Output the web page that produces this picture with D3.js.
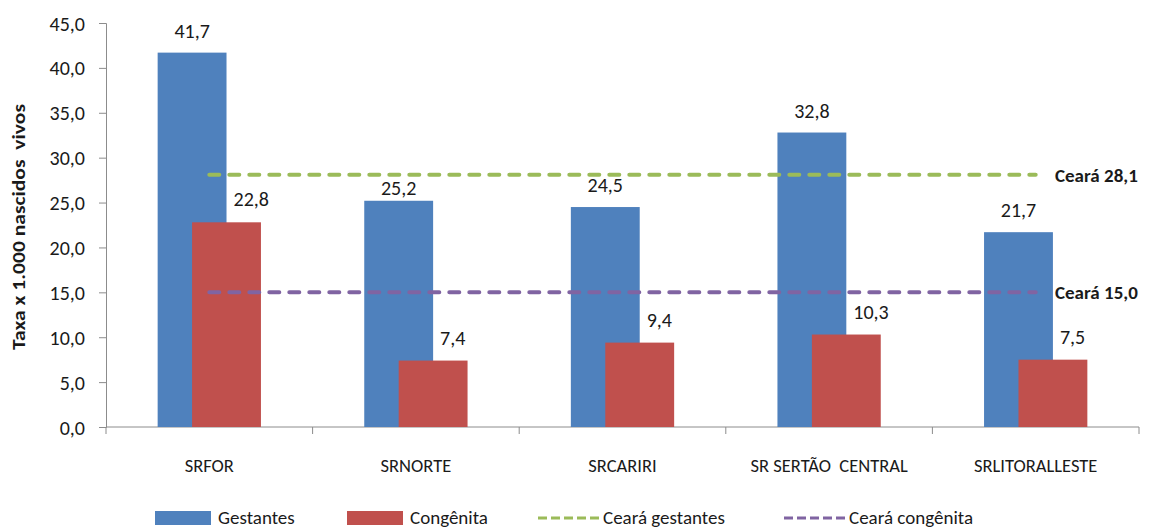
<!DOCTYPE html>
<html>
<head>
<meta charset="utf-8">
<style>
  body { margin: 0; background: #fff; }
  svg text { font-family: Carlito, Lato, "Open Sans", sans-serif; fill: #1a1a1a; }
  .axis path, .axis line { stroke: #8c8c8c; }
</style>
<script src="https://d3js.org/d3.v7.min.js"></script>
</head>
<body>
<svg width="1158" height="530"></svg>
<script>
var categories = ["SRFOR", "SRNORTE", "SRCARIRI", "SR SERTÃO  CENTRAL", "SRLITORALLESTE"];
var gestantes = [41.7, 25.2, 24.5, 32.8, 21.7];
var congenita = [22.8, 7.4, 9.4, 10.3, 7.5];
var cearaGestantes = 28.1;
var cearaCongenita = 15.0;
var yTicks = [0, 5, 10, 15, 20, 25, 30, 35, 40, 45];
var legendLabels = ["Gestantes", "Congênita", "Ceará gestantes", "Ceará congênita"];

var colors = { g: "#4f81bd", c: "#c0504d", lg: "#9bbb59", lc: "#8064a2" };
var fmt = function(v) { return v.toFixed(1).replace(".", ","); };

var svg = d3.select("svg");
var mLeft = 106, mRight = 1139, mTop = 23, mBottom = 427;

var x = d3.scaleBand().domain(categories).range([mLeft, mRight]);
var y = d3.scaleLinear().domain([0, 45]).range([mBottom, mTop]);
var bw = x.bandwidth() / 3;   // bar width
var off = bw / 4;              // overlap offset

// y axis
var yAxis = svg.append("g").attr("class", "axis")
  .attr("transform", "translate(" + mLeft + ",0)")
  .call(d3.axisLeft(y).tickValues(yTicks).tickSize(7).tickPadding(14).tickFormat(fmt));
yAxis.selectAll("text").style("font-size", "20px").attr("dy", "0.35em");

// x axis with ticks between categories
var xAxis = svg.append("g").attr("class", "axis")
  .attr("transform", "translate(0," + mBottom + ")");
xAxis.append("line").attr("x1", mLeft).attr("x2", mRight);
xAxis.selectAll(".tk").data(d3.range(categories.length + 1)).enter().append("line")
  .attr("x1", function(i) { return mLeft + i * x.step(); })
  .attr("x2", function(i) { return mLeft + i * x.step(); })
  .attr("y1", 0).attr("y2", 7);
xAxis.selectAll(".cl").data(categories).enter().append("text")
  .attr("x", function(d) { return x(d) + x.bandwidth() / 2; })
  .attr("y", 45)
  .attr("text-anchor", "middle")
  .style("font-size", "18.5px").style("white-space", "pre")
  .text(function(d) { return d; });

// y title
svg.append("text")
  .attr("transform", "translate(25," + 227 + ") rotate(-90)")
  .attr("text-anchor", "middle")
  .attr("textLength", 246).attr("lengthAdjust", "spacingAndGlyphs")
  .style("font-size", "18px").style("font-weight", "bold").style("white-space", "pre")
  .text("Taxa x 1.000 nascidos  vivos");

function cx(i) { return x(categories[i]) + x.bandwidth() / 2; }

// bars
svg.append("g").selectAll("rect").data(gestantes).enter().append("rect")
  .attr("x", function(d, i) { return cx(i) - off - bw / 2; })
  .attr("y", function(d) { return y(d); })
  .attr("width", bw)
  .attr("height", function(d) { return mBottom - y(d); })
  .attr("fill", colors.g);
svg.append("g").selectAll("rect").data(congenita).enter().append("rect")
  .attr("x", function(d, i) { return cx(i) + off - bw / 2; })
  .attr("y", function(d) { return y(d); })
  .attr("width", bw)
  .attr("height", function(d) { return mBottom - y(d); })
  .attr("fill", colors.c);

// reference lines
var refs = [{ v: cearaGestantes, c: colors.lg }, { v: cearaCongenita, c: colors.lc }];
refs.forEach(function(r) {
  svg.append("line")
    .attr("x1", cx(0)).attr("x2", cx(categories.length - 1))
    .attr("y1", y(r.v)).attr("y2", y(r.v))
    .attr("stroke", r.c).attr("stroke-width", 4)
    .attr("stroke-dasharray", "10,10").attr("stroke-linecap", "round");
  svg.append("text")
    .attr("x", 1055).attr("y", y(r.v) + 7)
    .style("font-size", "19px").style("font-weight", "bold")
    .text("Ceará " + fmt(r.v));
});

// data labels
function labelY(v) {
  var base = y(v) - 15;
  // keep label clear of reference lines
  refs.forEach(function(r) {
    var ly = y(r.v);
    if (ly > base - 17 && ly < base + 3) base = y(v) - 6;
  });
  return base;
}
svg.append("g").selectAll("text").data(gestantes).enter().append("text")
  .attr("x", function(d, i) { return cx(i) - off; })
  .attr("y", function(d) { return labelY(d); })
  .attr("text-anchor", "middle").style("font-size", "20px")
  .text(fmt);
svg.append("g").selectAll("text").data(congenita).enter().append("text")
  .attr("x", function(d, i) { return cx(i) + off + 7; })
  .attr("y", function(d) { return y(d) - 16; })
  .attr("text-anchor", "start").style("font-size", "20px")
  .text(fmt);

// legend
var legX = [155, 347, 537, 783];
var leg = svg.append("g");
legendLabels.forEach(function(t, i) {
  var g = leg.append("g").attr("transform", "translate(" + legX[i] + ",518)");
  if (i < 2) {
    g.append("rect").attr("x", 0).attr("y", -7).attr("width", 56).attr("height", 14)
      .attr("fill", i === 0 ? colors.g : colors.c);
  } else {
    g.append("line").attr("x1", 1).attr("x2", 62).attr("y1", 0).attr("y2", 0)
      .attr("stroke", i === 2 ? colors.lg : colors.lc).attr("stroke-width", 3)
      .attr("stroke-dasharray", "9,4");
  }
  g.append("text").attr("x", i < 2 ? 63 : 66).attr("y", 6)
    .style("font-size", "19px").text(t);
});
</script>
</body>
</html>
